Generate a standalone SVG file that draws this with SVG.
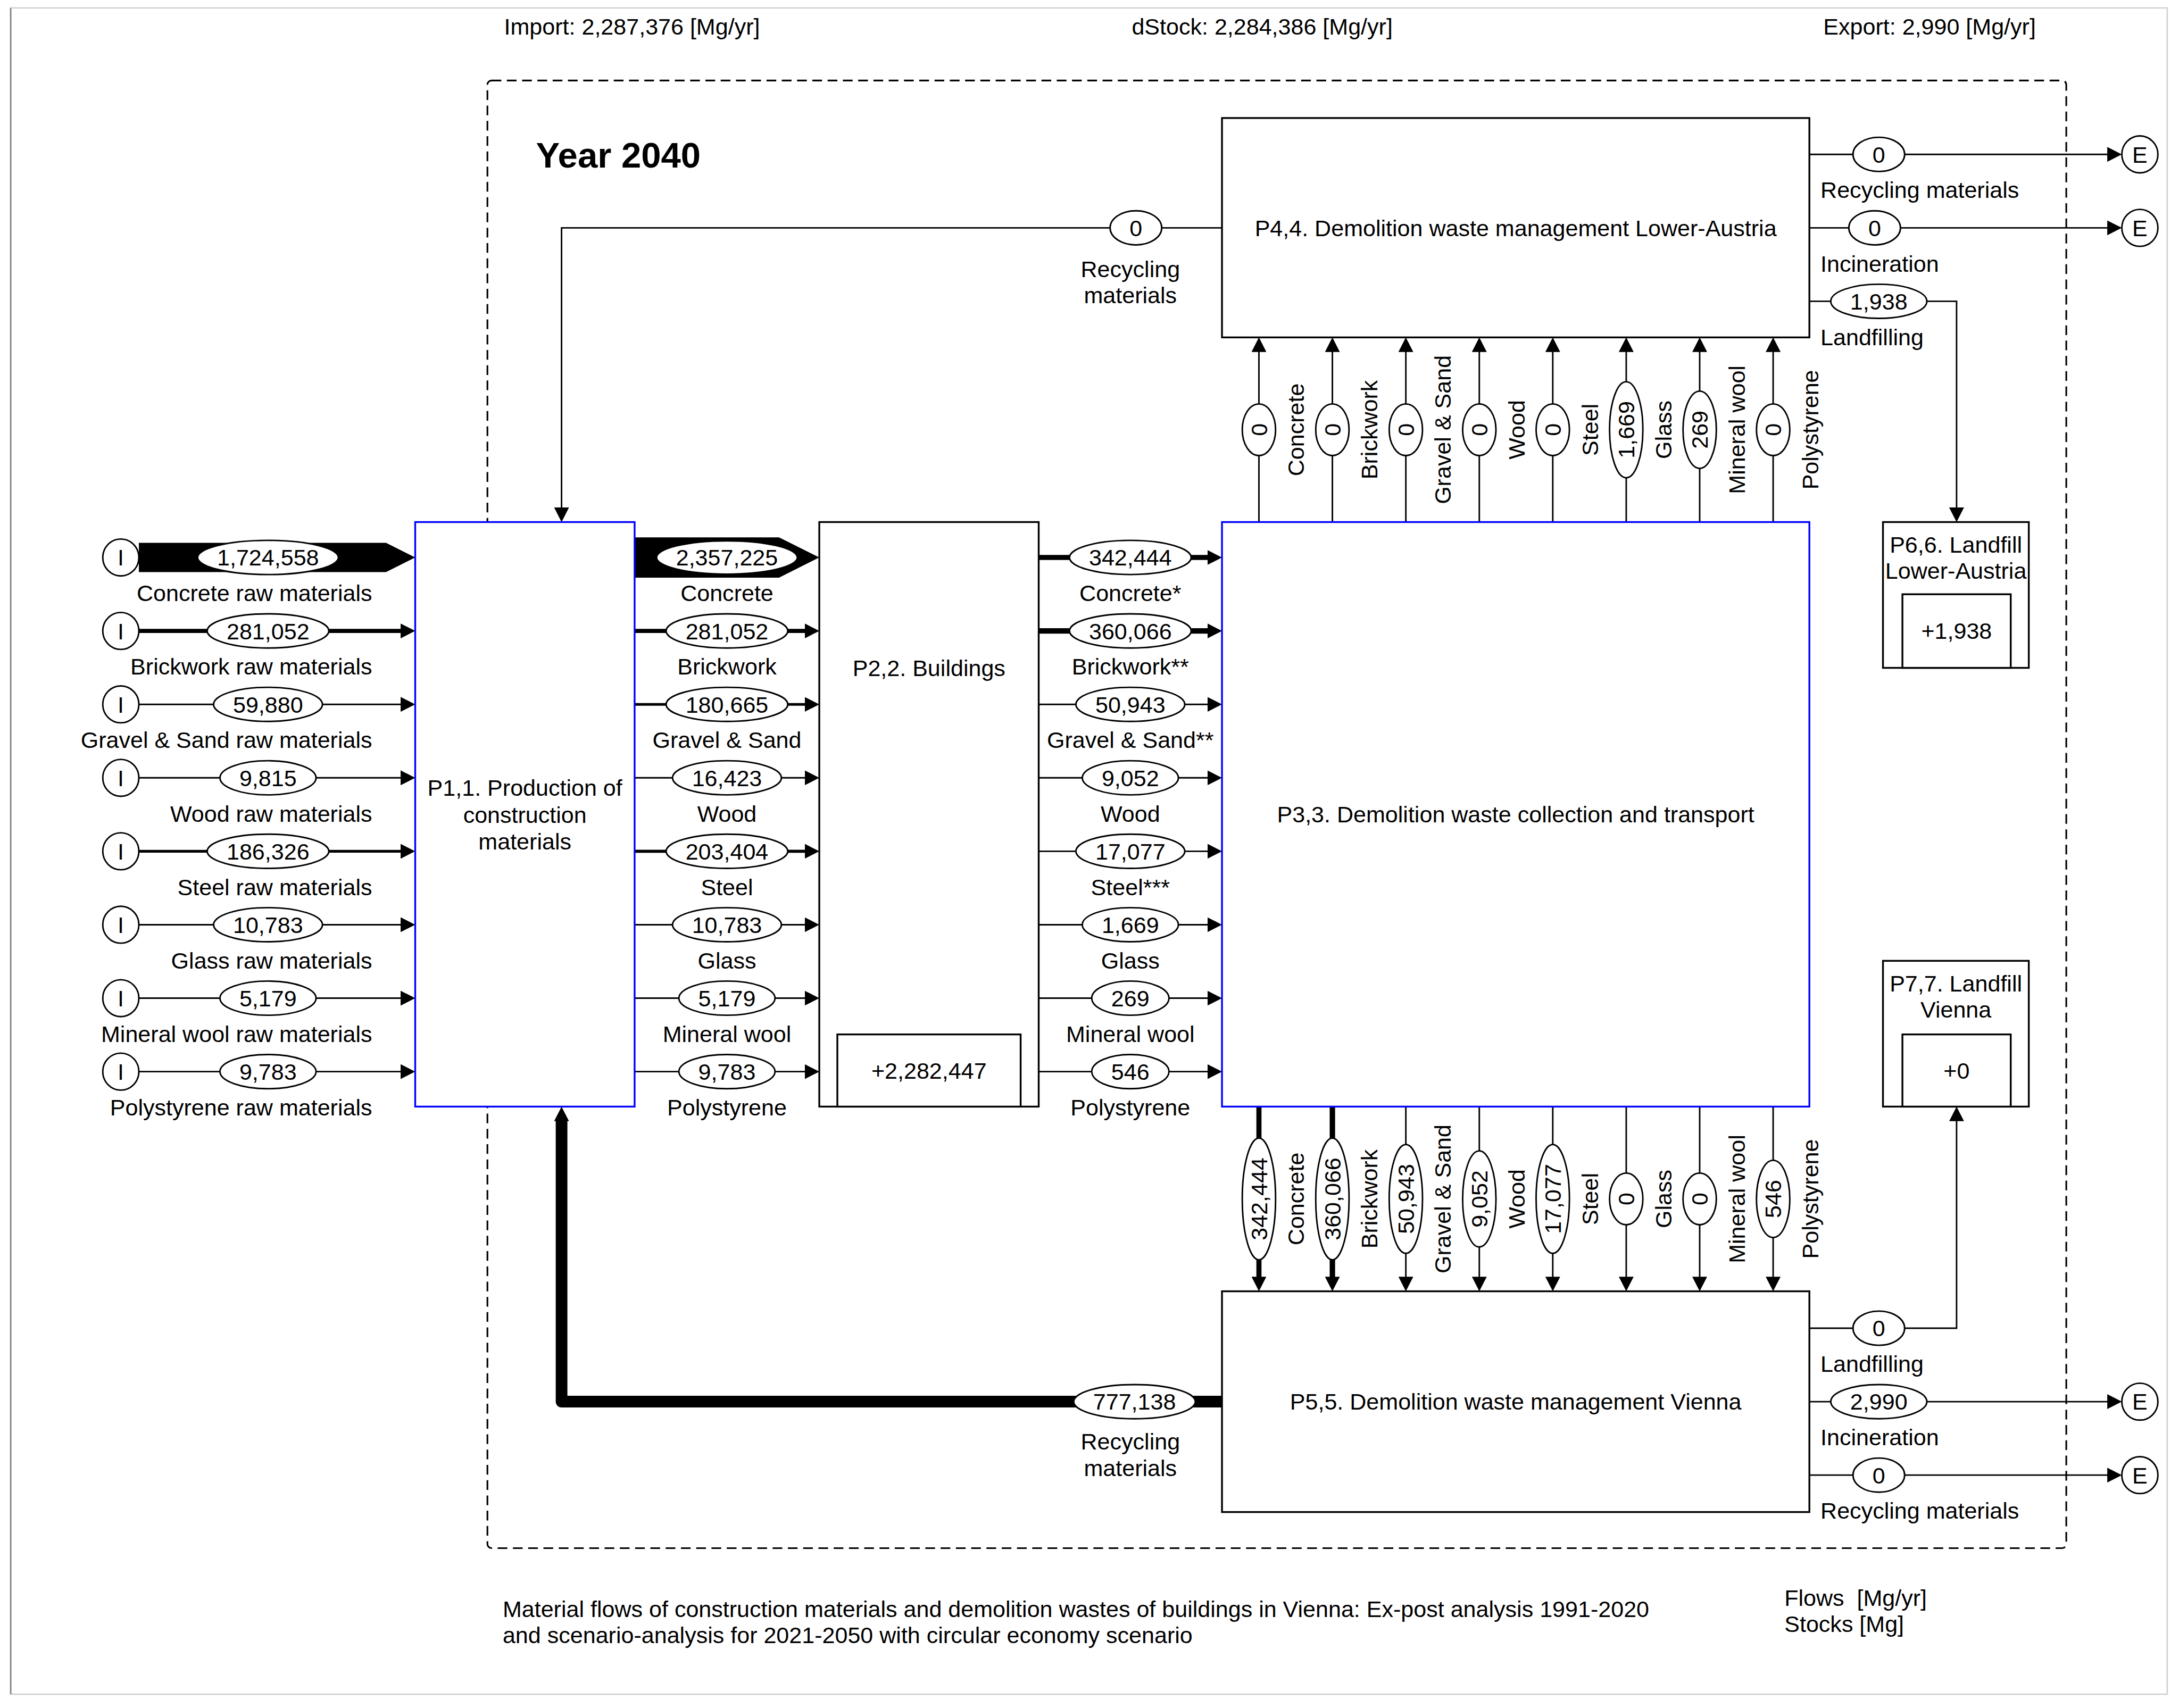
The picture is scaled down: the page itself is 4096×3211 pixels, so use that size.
<svg xmlns="http://www.w3.org/2000/svg" width="4096" height="3211" viewBox="0 0 4096 3211">
<style>
text{font-family:"Liberation Sans",Arial,Helvetica,sans-serif;font-size:16.5px;fill:#000}
.m{text-anchor:middle}
.e{text-anchor:end}
.yr{font-weight:bold;font-size:25.7px}
.b{fill:#fff;stroke:#000;stroke-width:1.3}
.p{fill:#fff;stroke:#00f;stroke-width:1.3}
.v{fill:#fff;stroke:#000;stroke-width:1.1}
.l{fill:none;stroke:#000;stroke-width:1.1}
.a{marker-end:url(#ah)}
.band{fill:#000;stroke:none}
</style>
<defs>
<marker id="ah" markerWidth="10.5" markerHeight="10.7" refX="0.5" refY="5.35" orient="auto" markerUnits="userSpaceOnUse"><path d="M0,0L10.5,5.35L0,10.7z" fill="#000"/></marker>
</defs>
<rect width="4096" height="3211" fill="#fff"/>
<g transform="scale(2.61029)">
<g id="frame">
<rect x="7.7" y="5.7" width="1553" height="1214.5" fill="none" stroke="#d0d0d0" stroke-width="1"/>
<path d="M7.7,5.7V1220.2" stroke="#808080" stroke-width="1" fill="none"/>
<rect x="351" y="58" width="1137" height="1057" rx="3" fill="none" stroke="#000" stroke-width="1.2" stroke-dasharray="7 4"/>
</g>
<g id="header">
<text x="363" y="25">Import: 2,287,376 [Mg/yr]</text>
<text x="815" y="25">dStock: 2,284,386 [Mg/yr]</text>
<text x="1313" y="25">Export: 2,990 [Mg/yr]</text>
<text class="yr" x="386" y="120.5">Year 2040</text>
<text x="362" y="1164.5">Material flows of construction materials and demolition wastes of buildings in Vienna: Ex-post analysis 1991-2020</text>
<text x="362" y="1183.5">and scenario-analysis for 2021-2050 with circular economy scenario</text>
<text x="1285" y="1156.5" xml:space="preserve">Flows  [Mg/yr]</text>
<text x="1285" y="1175.5">Stocks [Mg]</text>
</g>
<g id="connectors">
<polygon class="band" points="100,391 278,391 299,401.5 278,412 100,412"/>
<path class="l a" d="M100,454.4H289" style="stroke-width:3"/>
<path class="l a" d="M100,507.3H289"/>
<path class="l a" d="M100,560.2H289"/>
<path class="l a" d="M100,613.1H289" style="stroke-width:2"/>
<path class="l a" d="M100,666H289"/>
<path class="l a" d="M100,718.9H289"/>
<path class="l a" d="M100,771.8H289"/>
<polygon class="band" points="457,387 561,387 590,401.5 561,416 457,416"/>
<path class="l a" d="M457,454.4H580" style="stroke-width:3"/>
<path class="l a" d="M457,507.3H580" style="stroke-width:1.95"/>
<path class="l a" d="M457,560.2H580"/>
<path class="l a" d="M457,613.1H580" style="stroke-width:2.2"/>
<path class="l a" d="M457,666H580"/>
<path class="l a" d="M457,718.9H580"/>
<path class="l a" d="M457,771.8H580"/>
<path class="l a" d="M748,401.5H870" style="stroke-width:3.7"/>
<path class="l a" d="M748,454.4H870" style="stroke-width:3.9"/>
<path class="l a" d="M748,507.3H870"/>
<path class="l a" d="M748,560.2H870"/>
<path class="l a" d="M748,613.1H870"/>
<path class="l a" d="M748,666H870"/>
<path class="l a" d="M748,718.9H870"/>
<path class="l a" d="M748,771.8H870"/>
<path class="l a" d="M906.6,376V253"/>
<path class="l a" d="M959.5,376V253"/>
<path class="l a" d="M1012.4,376V253"/>
<path class="l a" d="M1065.3,376V253"/>
<path class="l a" d="M1118.2,376V253"/>
<path class="l a" d="M1171.1,376V253"/>
<path class="l a" d="M1224,376V253"/>
<path class="l a" d="M1276.9,376V253"/>
<path class="l a" d="M906.6,797V920" style="stroke-width:3.7"/>
<path class="l a" d="M959.5,797V920" style="stroke-width:3.9"/>
<path class="l a" d="M1012.4,797V920"/>
<path class="l a" d="M1065.3,797V920"/>
<path class="l a" d="M1118.2,797V920"/>
<path class="l a" d="M1171.1,797V920"/>
<path class="l a" d="M1224,797V920"/>
<path class="l a" d="M1276.9,797V920"/>
<path class="l a" d="M880,164.1H404.4V366"/>
<path class="l a" d="M880,1009.5H404.4V807" style="stroke-width:8.4;stroke-linejoin:round"/>
<path class="l a" d="M1303,111.2H1518"/>
<path class="l a" d="M1303,164.1H1518"/>
<path class="l a" d="M1303,217H1409V366"/>
<path class="l a" d="M1303,956.6H1409V807"/>
<path class="l a" d="M1303,1009.5H1518"/>
<path class="l a" d="M1303,1062.4H1518"/>
</g>
<g id="flow-values">
<ellipse class="v" cx="193" cy="401.5" rx="50.7" ry="12.3"/><text class="m" x="193" y="407.4">1,724,558</text>
<ellipse class="v" cx="193" cy="454.4" rx="43.8" ry="12.3"/><text class="m" x="193" y="460.3">281,052</text>
<ellipse class="v" cx="193" cy="507.3" rx="39.2" ry="12.3"/><text class="m" x="193" y="513.2">59,880</text>
<ellipse class="v" cx="193" cy="560.2" rx="34.6" ry="12.3"/><text class="m" x="193" y="566.1">9,815</text>
<ellipse class="v" cx="193" cy="613.1" rx="43.8" ry="12.3"/><text class="m" x="193" y="619">186,326</text>
<ellipse class="v" cx="193" cy="666" rx="39.2" ry="12.3"/><text class="m" x="193" y="671.9">10,783</text>
<ellipse class="v" cx="193" cy="718.9" rx="34.6" ry="12.3"/><text class="m" x="193" y="724.8">5,179</text>
<ellipse class="v" cx="193" cy="771.8" rx="34.6" ry="12.3"/><text class="m" x="193" y="777.7">9,783</text>
<text class="e" x="268" y="433">Concrete raw materials</text>
<text class="e" x="268" y="485.9">Brickwork raw materials</text>
<text class="e" x="268" y="538.8">Gravel &amp; Sand raw materials</text>
<text class="e" x="268" y="591.7">Wood raw materials</text>
<text class="e" x="268" y="644.6">Steel raw materials</text>
<text class="e" x="268" y="697.5">Glass raw materials</text>
<text class="e" x="268" y="750.4">Mineral wool raw materials</text>
<text class="e" x="268" y="803.3">Polystyrene raw materials</text>

<ellipse class="v" cx="523.5" cy="401.5" rx="50.7" ry="12"/><text class="m" x="523.5" y="407.4">2,357,225</text>
<ellipse class="v" cx="523.5" cy="454.4" rx="43.8" ry="12.3"/><text class="m" x="523.5" y="460.3">281,052</text>
<ellipse class="v" cx="523.5" cy="507.3" rx="43.8" ry="12.3"/><text class="m" x="523.5" y="513.2">180,665</text>
<ellipse class="v" cx="523.5" cy="560.2" rx="39.2" ry="12.3"/><text class="m" x="523.5" y="566.1">16,423</text>
<ellipse class="v" cx="523.5" cy="613.1" rx="43.8" ry="12.3"/><text class="m" x="523.5" y="619">203,404</text>
<ellipse class="v" cx="523.5" cy="666" rx="39.2" ry="12.3"/><text class="m" x="523.5" y="671.9">10,783</text>
<ellipse class="v" cx="523.5" cy="718.9" rx="34.6" ry="12.3"/><text class="m" x="523.5" y="724.8">5,179</text>
<ellipse class="v" cx="523.5" cy="771.8" rx="34.6" ry="12.3"/><text class="m" x="523.5" y="777.7">9,783</text>
<text class="m" x="523.5" y="433">Concrete</text>
<text class="m" x="523.5" y="485.9">Brickwork</text>
<text class="m" x="523.5" y="538.8">Gravel &amp; Sand</text>
<text class="m" x="523.5" y="591.7">Wood</text>
<text class="m" x="523.5" y="644.6">Steel</text>
<text class="m" x="523.5" y="697.5">Glass</text>
<text class="m" x="523.5" y="750.4">Mineral wool</text>
<text class="m" x="523.5" y="803.3">Polystyrene</text>

<ellipse class="v" cx="814" cy="401.5" rx="43.8" ry="12.3"/><text class="m" x="814" y="407.4">342,444</text>
<ellipse class="v" cx="814" cy="454.4" rx="43.8" ry="12.3"/><text class="m" x="814" y="460.3">360,066</text>
<ellipse class="v" cx="814" cy="507.3" rx="39.2" ry="12.3"/><text class="m" x="814" y="513.2">50,943</text>
<ellipse class="v" cx="814" cy="560.2" rx="34.6" ry="12.3"/><text class="m" x="814" y="566.1">9,052</text>
<ellipse class="v" cx="814" cy="613.1" rx="39.2" ry="12.3"/><text class="m" x="814" y="619">17,077</text>
<ellipse class="v" cx="814" cy="666" rx="34.6" ry="12.3"/><text class="m" x="814" y="671.9">1,669</text>
<ellipse class="v" cx="814" cy="718.9" rx="27.8" ry="12.3"/><text class="m" x="814" y="724.8">269</text>
<ellipse class="v" cx="814" cy="771.8" rx="27.8" ry="12.3"/><text class="m" x="814" y="777.7">546</text>
<text class="m" x="814" y="433">Concrete*</text>
<text class="m" x="814" y="485.9">Brickwork**</text>
<text class="m" x="814" y="538.8">Gravel &amp; Sand**</text>
<text class="m" x="814" y="591.7">Wood</text>
<text class="m" x="814" y="644.6">Steel***</text>
<text class="m" x="814" y="697.5">Glass</text>
<text class="m" x="814" y="750.4">Mineral wool</text>
<text class="m" x="814" y="803.3">Polystyrene</text>

<ellipse class="v" cx="906.6" cy="309.5" rx="12" ry="18.6"/><text class="m" x="906.6" y="315.4" transform="rotate(-90 906.6 309.5)">0</text>
<ellipse class="v" cx="959.5" cy="309.5" rx="12" ry="18.6"/><text class="m" x="959.5" y="315.4" transform="rotate(-90 959.5 309.5)">0</text>
<ellipse class="v" cx="1012.4" cy="309.5" rx="12" ry="18.6"/><text class="m" x="1012.4" y="315.4" transform="rotate(-90 1012.4 309.5)">0</text>
<ellipse class="v" cx="1065.3" cy="309.5" rx="12" ry="18.6"/><text class="m" x="1065.3" y="315.4" transform="rotate(-90 1065.3 309.5)">0</text>
<ellipse class="v" cx="1118.2" cy="309.5" rx="12" ry="18.6"/><text class="m" x="1118.2" y="315.4" transform="rotate(-90 1118.2 309.5)">0</text>
<ellipse class="v" cx="1171.1" cy="309.5" rx="12" ry="34.6"/><text class="m" x="1171.1" y="315.4" transform="rotate(-90 1171.1 309.5)">1,669</text>
<ellipse class="v" cx="1224" cy="309.5" rx="12" ry="27.8"/><text class="m" x="1224" y="315.4" transform="rotate(-90 1224 309.5)">269</text>
<ellipse class="v" cx="1276.9" cy="309.5" rx="12" ry="18.6"/><text class="m" x="1276.9" y="315.4" transform="rotate(-90 1276.9 309.5)">0</text>
<text class="m" x="933.2" y="315.4" transform="rotate(-90 933.2 309.5)">Concrete</text>
<text class="m" x="986.1" y="315.4" transform="rotate(-90 986.1 309.5)">Brickwork</text>
<text class="m" x="1039" y="315.4" transform="rotate(-90 1039 309.5)">Gravel &amp; Sand</text>
<text class="m" x="1091.9" y="315.4" transform="rotate(-90 1091.9 309.5)">Wood</text>
<text class="m" x="1144.8" y="315.4" transform="rotate(-90 1144.8 309.5)">Steel</text>
<text class="m" x="1197.7" y="315.4" transform="rotate(-90 1197.7 309.5)">Glass</text>
<text class="m" x="1250.6" y="315.4" transform="rotate(-90 1250.6 309.5)">Mineral wool</text>
<text class="m" x="1303.5" y="315.4" transform="rotate(-90 1303.5 309.5)">Polystyrene</text>

<ellipse class="v" cx="906.6" cy="863.5" rx="12" ry="43.8"/><text class="m" x="906.6" y="869.4" transform="rotate(-90 906.6 863.5)">342,444</text>
<ellipse class="v" cx="959.5" cy="863.5" rx="12" ry="43.8"/><text class="m" x="959.5" y="869.4" transform="rotate(-90 959.5 863.5)">360,066</text>
<ellipse class="v" cx="1012.4" cy="863.5" rx="12" ry="39.2"/><text class="m" x="1012.4" y="869.4" transform="rotate(-90 1012.4 863.5)">50,943</text>
<ellipse class="v" cx="1065.3" cy="863.5" rx="12" ry="34.6"/><text class="m" x="1065.3" y="869.4" transform="rotate(-90 1065.3 863.5)">9,052</text>
<ellipse class="v" cx="1118.2" cy="863.5" rx="12" ry="39.2"/><text class="m" x="1118.2" y="869.4" transform="rotate(-90 1118.2 863.5)">17,077</text>
<ellipse class="v" cx="1171.1" cy="863.5" rx="12" ry="18.6"/><text class="m" x="1171.1" y="869.4" transform="rotate(-90 1171.1 863.5)">0</text>
<ellipse class="v" cx="1224" cy="863.5" rx="12" ry="18.6"/><text class="m" x="1224" y="869.4" transform="rotate(-90 1224 863.5)">0</text>
<ellipse class="v" cx="1276.9" cy="863.5" rx="12" ry="27.8"/><text class="m" x="1276.9" y="869.4" transform="rotate(-90 1276.9 863.5)">546</text>
<text class="m" x="933.2" y="869.4" transform="rotate(-90 933.2 863.5)">Concrete</text>
<text class="m" x="986.1" y="869.4" transform="rotate(-90 986.1 863.5)">Brickwork</text>
<text class="m" x="1039" y="869.4" transform="rotate(-90 1039 863.5)">Gravel &amp; Sand</text>
<text class="m" x="1091.9" y="869.4" transform="rotate(-90 1091.9 863.5)">Wood</text>
<text class="m" x="1144.8" y="869.4" transform="rotate(-90 1144.8 863.5)">Steel</text>
<text class="m" x="1197.7" y="869.4" transform="rotate(-90 1197.7 863.5)">Glass</text>
<text class="m" x="1250.6" y="869.4" transform="rotate(-90 1250.6 863.5)">Mineral wool</text>
<text class="m" x="1303.5" y="869.4" transform="rotate(-90 1303.5 863.5)">Polystyrene</text>

<ellipse class="v" cx="818" cy="164.1" rx="18.6" ry="12.3"/><text class="m" x="818" y="170">0</text>
<text class="m" x="814" y="199.5">Recycling</text>
<text class="m" x="814" y="218.5">materials</text>
<ellipse class="v" cx="817" cy="1009.5" rx="43.8" ry="12.3"/><text class="m" x="817" y="1015.4">777,138</text>
<text class="m" x="814" y="1044">Recycling</text>
<text class="m" x="814" y="1063">materials</text>

<ellipse class="v" cx="1353" cy="111.2" rx="18.6" ry="12.3"/><text class="m" x="1353" y="117.1">0</text>
<ellipse class="v" cx="1350" cy="164.1" rx="18.6" ry="12.3"/><text class="m" x="1350" y="170">0</text>
<ellipse class="v" cx="1353" cy="217" rx="34.6" ry="12.3"/><text class="m" x="1353" y="222.9">1,938</text>
<text x="1311" y="142.7">Recycling materials</text>
<text x="1311" y="195.6">Incineration</text>
<text x="1311" y="248.5">Landfilling</text>
<ellipse class="v" cx="1353" cy="956.6" rx="18.6" ry="12.3"/><text class="m" x="1353" y="962.5">0</text>
<ellipse class="v" cx="1353" cy="1009.5" rx="34.6" ry="12.3"/><text class="m" x="1353" y="1015.4">2,990</text>
<ellipse class="v" cx="1353" cy="1062.4" rx="18.6" ry="12.3"/><text class="m" x="1353" y="1068.3">0</text>
<text x="1311" y="988.1">Landfilling</text>
<text x="1311" y="1041">Incineration</text>
<text x="1311" y="1093.9">Recycling materials</text>
</g>
<g id="import-nodes">
<g id="I1"><ellipse class="v" cx="87" cy="401.5" rx="13" ry="13.3"/><text class="m" x="87" y="407.4">I</text></g>
<g id="I2"><ellipse class="v" cx="87" cy="454.4" rx="13" ry="13.3"/><text class="m" x="87" y="460.3">I</text></g>
<g id="I3"><ellipse class="v" cx="87" cy="507.3" rx="13" ry="13.3"/><text class="m" x="87" y="513.2">I</text></g>
<g id="I4"><ellipse class="v" cx="87" cy="560.2" rx="13" ry="13.3"/><text class="m" x="87" y="566.1">I</text></g>
<g id="I5"><ellipse class="v" cx="87" cy="613.1" rx="13" ry="13.3"/><text class="m" x="87" y="619">I</text></g>
<g id="I6"><ellipse class="v" cx="87" cy="666" rx="13" ry="13.3"/><text class="m" x="87" y="671.9">I</text></g>
<g id="I7"><ellipse class="v" cx="87" cy="718.9" rx="13" ry="13.3"/><text class="m" x="87" y="724.8">I</text></g>
<g id="I8"><ellipse class="v" cx="87" cy="771.8" rx="13" ry="13.3"/><text class="m" x="87" y="777.7">I</text></g>
</g>
<g id="export-nodes">
<g id="E1"><ellipse class="v" cx="1541" cy="111.2" rx="13" ry="13.3"/><text class="m" x="1541" y="117.1">E</text></g>
<g id="E2"><ellipse class="v" cx="1541" cy="164.1" rx="13" ry="13.3"/><text class="m" x="1541" y="170">E</text></g>
<g id="E3"><ellipse class="v" cx="1541" cy="1009.5" rx="13" ry="13.3"/><text class="m" x="1541" y="1015.4">E</text></g>
<g id="E4"><ellipse class="v" cx="1541" cy="1062.4" rx="13" ry="13.3"/><text class="m" x="1541" y="1068.3">E</text></g>
</g>
<g id="P1">
<rect class="p" x="299" y="376" width="158" height="421"/>
<text class="m" x="378" y="573">P1,1. Production of</text>
<text class="m" x="378" y="592.5">construction</text>
<text class="m" x="378" y="612">materials</text>
</g>
<g id="P2">
<rect class="b" x="590" y="376" width="158" height="421"/>
<text class="m" x="669" y="487">P2,2. Buildings</text>
<rect class="b" x="603" y="745" width="132" height="52"/>
<text class="m" x="669" y="777">+2,282,447</text>
</g>
<g id="P3">
<rect class="p" x="880" y="376" width="423" height="421"/>
<text class="m" x="1091.5" y="592.4">P3,3. Demolition waste collection and transport</text>
</g>
<g id="P4">
<rect class="b" x="880" y="85" width="423" height="158"/>
<text class="m" x="1091.5" y="170">P4,4. Demolition waste management Lower-Austria</text>
</g>
<g id="P5">
<rect class="b" x="880" y="930" width="423" height="159"/>
<text class="m" x="1091.5" y="1015.4">P5,5. Demolition waste management Vienna</text>
</g>
<g id="P6">
<rect class="b" x="1356" y="376" width="105" height="105"/>
<text class="m" x="1408.5" y="398">P6,6. Landfill</text>
<text class="m" x="1408.5" y="417">Lower-Austria</text>
<rect class="b" x="1370" y="428" width="78" height="53"/>
<text class="m" x="1409" y="460">+1,938</text>
</g>
<g id="P7">
<rect class="b" x="1356" y="692" width="105" height="105"/>
<text class="m" x="1408.5" y="714">P7,7. Landfill</text>
<text class="m" x="1408.5" y="733">Vienna</text>
<rect class="b" x="1370" y="745" width="78" height="52"/>
<text class="m" x="1409" y="777">+0</text>
</g>
</g>
</svg>
